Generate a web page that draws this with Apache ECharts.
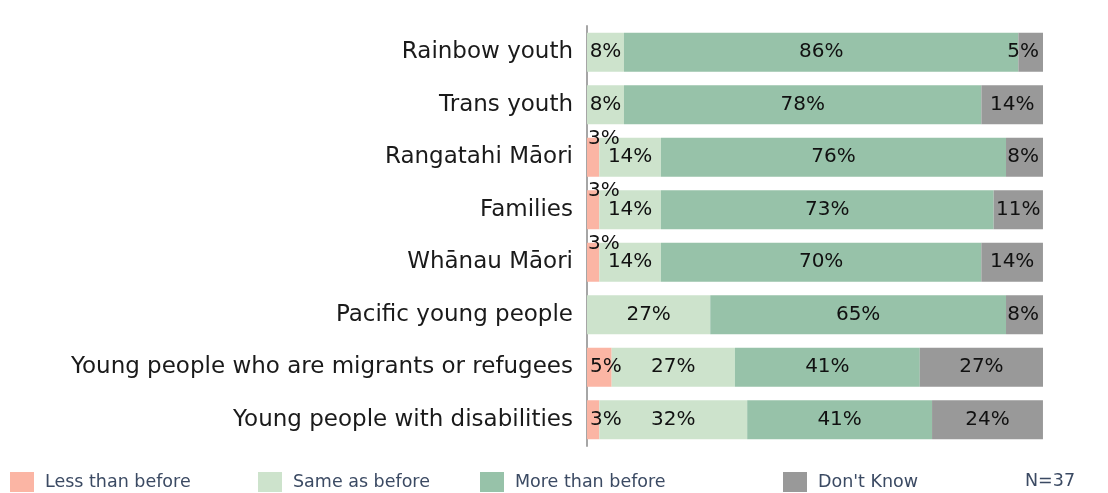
<!DOCTYPE html>
<html>
<head>
<meta charset="utf-8">
<style>
  html, body { margin: 0; padding: 0; background: #ffffff; }
  #chart { width: 1108px; height: 493px; }
</style>
<script src="https://cdn.jsdelivr.net/npm/echarts@6/dist/echarts.min.js"></script>
</head>
<body>
<div id="chart"></div>
<script>
// Groups surveyed, top to bottom
const categories = [
  'Rainbow youth',
  'Trans youth',
  'Rangatahi Māori',
  'Families',
  'Whānau Māori',
  'Pacific young people',
  'Young people who are migrants or refugees',
  'Young people with disabilities'
];

// Share of respondents (%), N = 37
const lessThanBefore = [0, 0, 2.70, 2.70, 2.70, 0, 5.41, 2.70];
const sameAsBefore   = [8.11, 8.11, 13.51, 13.51, 13.51, 27.03, 27.03, 32.43];
const moreThanBefore = [86.49, 78.38, 75.68, 72.97, 70.27, 64.86, 40.54, 40.54];
const dontKnow       = [5.41, 13.51, 8.11, 10.81, 13.51, 8.11, 27.03, 24.32];

const seriesNames = ['Less than before', 'Same as before', 'More than before', "Don't Know"];
const seriesColors = ['#FBB5A4', '#CDE3CC', '#97C2A9', '#999999'];
const sampleNote = 'N=37';

const labelFont = 'DejaVu Sans';
const pct = p => (p.value > 0 ? Math.round(p.value) + '%' : '');

const baseLabel = {
  show: true,
  position: 'inside',
  fontFamily: labelFont,
  fontSize: 20,
  color: '#111111',
  formatter: pct
};

// "Less" labels: hug the axis; when a neighbouring label would collide, lift onto the bar's top edge
function lessData(values, same) {
  return values.map((v, i) => {
    if (v > 0 && v < 4 && same[i] < 20) {
      return { value: v, label: { position: [1, 1], align: 'left', verticalAlign: 'middle' } };
    }
    return { value: v, label: { position: 'insideLeft', distance: 3 } };
  });
}

// "Don't Know" labels: small segments keep their label inside the plot's right edge
function dkData(values) {
  return values.map(v => (v < 10 ? { value: v, label: { position: 'insideRight', distance: 4 } } : v));
}

const chart = echarts.init(document.getElementById('chart'), null, { renderer: 'canvas' });

const legendLefts = [5, 253, 475, 778];

const option = {
  animation: false,
  grid: { left: 587, right: 65, top: 26, bottom: 47, containLabel: false },
  xAxis: {
    type: 'value',
    min: 0,
    max: 100,
    show: false
  },
  yAxis: {
    type: 'category',
    data: categories,
    inverse: true,
    axisLine: { show: true, lineStyle: { color: '#A6A6A6', width: 2 } },
    axisTick: { show: false },
    axisLabel: {
      fontFamily: labelFont,
      fontSize: 23,
      color: '#1a1a1a',
      margin: 14
    }
  },
  legend: seriesNames.map((name, i) => ({
    data: [name],
    left: legendLefts[i],
    top: 467,
    itemWidth: 24,
    itemHeight: 20,
    icon: 'rect',
    selectedMode: false,
    textStyle: {
      fontFamily: labelFont,
      fontSize: 17.5,
      color: '#3B4A63',
      padding: [0, 0, 0, 6]
    }
  })),
  graphic: [{
    type: 'text',
    left: 1025,
    top: 472,
    style: {
      text: sampleNote,
      fontFamily: labelFont,
      fontSize: 17.5,
      fill: '#3B4A63'
    }
  }],
  series: [
    { name: seriesNames[0], data: lessData(lessThanBefore, sameAsBefore) },
    { name: seriesNames[1], data: sameAsBefore },
    { name: seriesNames[2], data: moreThanBefore },
    { name: seriesNames[3], data: dkData(dontKnow) }
  ].map((s, i) => Object.assign({
    type: 'bar',
    stack: 'total',
    barWidth: 39,
    itemStyle: { color: seriesColors[i] },
    label: baseLabel,
    emphasis: { disabled: true }
  }, s))
};

chart.setOption(option);
</script>
</body>
</html>
